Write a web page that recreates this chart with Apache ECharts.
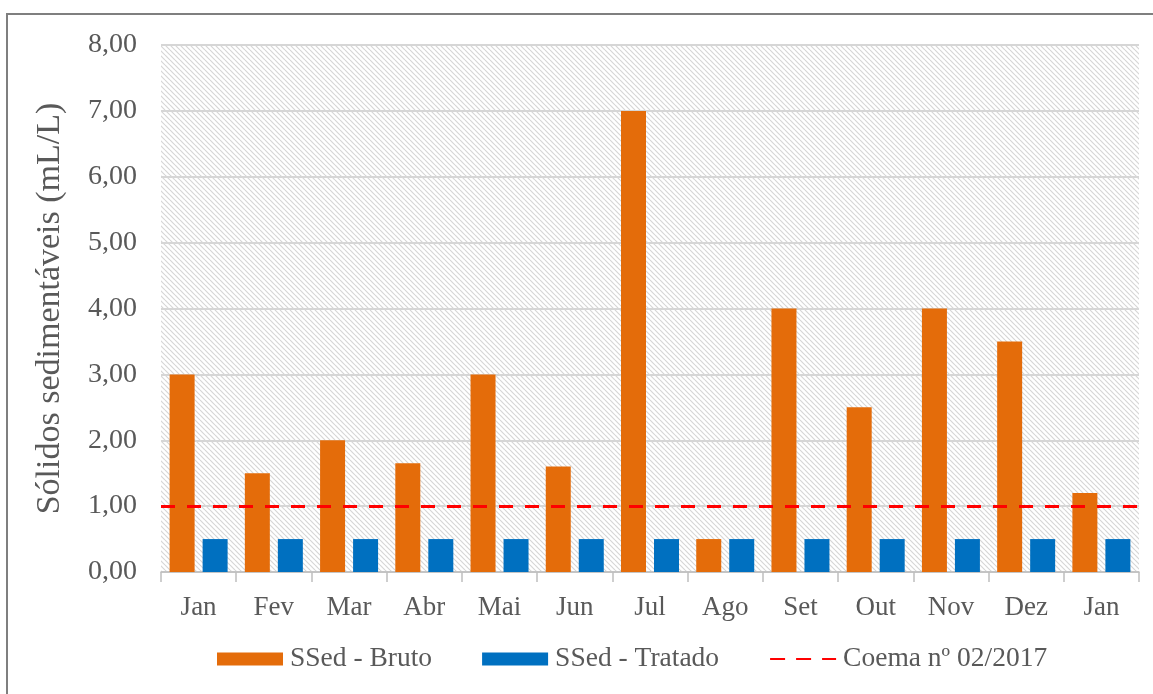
<!DOCTYPE html>
<html>
<head>
<meta charset="utf-8">
<script src="https://cdn.jsdelivr.net/npm/echarts@6/dist/echarts.min.js"></script>
<style>
html,body{margin:0;padding:0;background:#fff;}
#chart{width:1153px;height:694px;}
</style>
</head>
<body>
<div id="chart"></div>
<script>
const categories = ['Jan','Fev','Mar','Abr','Mai','Jun','Jul','Ago','Set','Out','Nov','Dez','Jan'];
const brutoValues = [3.0, 1.5, 2.0, 1.65, 3.0, 1.6, 7.0, 0.5, 4.0, 2.5, 4.0, 3.5, 1.2];
const tratadoValues = [0.5, 0.5, 0.5, 0.5, 0.5, 0.5, 0.5, 0.5, 0.5, 0.5, 0.5, 0.5, 0.5];
const coemaLimit = 1.0;
const seriesNames = ['SSed - Bruto', 'SSed - Tratado', 'Coema nº 02/2017'];
const yAxisTitle = 'Sólidos sedimentáveis (mL/L)';

function makeHatch() {
  const s = 5;
  const c = document.createElement('canvas');
  c.width = s; c.height = s;
  const ctx = c.getContext('2d');
  ctx.fillStyle = '#ffffff';
  ctx.fillRect(0, 0, s, s);
  ctx.strokeStyle = '#d6d6d6';
  ctx.lineWidth = 1.2;
  for (const off of [-s, 0, s]) {
    ctx.beginPath();
    ctx.moveTo(0, off);
    ctx.lineTo(s, off + s);
    ctx.stroke();
  }
  return c;
}

const font = 'Liberation Serif';
const chart = echarts.init(document.getElementById('chart'), null, {renderer: 'canvas'});
chart.setOption({
  animation: false,
  backgroundColor: '#ffffff',
  textStyle: {fontFamily: font},
  graphic: [{
    type: 'rect', z: 100, silent: true,
    shape: {x: 7, y: 14, width: 1170, height: 720},
    style: {fill: 'none', stroke: '#7f7f7f', lineWidth: 2}
  }],
  grid: {
    left: 161, right: 14, top: 45, bottom: 122,
    show: true, borderWidth: 0,
    backgroundColor: {image: makeHatch(), repeat: 'repeat'}
  },
  legend: {
    top: 640, left: 212,
    itemWidth: 66, itemHeight: 13, itemGap: 50,
    textStyle: {fontFamily: font, fontSize: 27.5, color: '#595959', padding: [0,0,0,2]},
    data: [
      {name: seriesNames[0], icon: 'rect'},
      {name: seriesNames[1], icon: 'rect'},
      {name: seriesNames[2], itemStyle: {opacity: 0}}
    ]
  },
  xAxis: {
    type: 'category',
    data: categories,
    axisLine: {lineStyle: {color: '#bfbfbf', width: 1.5}},
    axisTick: {show: true, length: 10, lineStyle: {color: '#bfbfbf', width: 1.5}},
    axisLabel: {fontFamily: font, fontSize: 27, color: '#595959', margin: 22},
    splitLine: {show: false}
  },
  yAxis: {
    type: 'value',
    min: 0, max: 8, interval: 1,
    name: yAxisTitle,
    nameLocation: 'middle',
    nameGap: 94,
    nameTextStyle: {fontFamily: font, fontSize: 34, color: '#595959'},
    axisLine: {show: false},
    axisTick: {show: false},
    axisLabel: {
      fontFamily: font, fontSize: 28, color: '#595959', margin: 24,
      formatter: v => v.toFixed(2).replace('.', ',')
    },
    splitLine: {lineStyle: {color: '#d6d6d6', width: 2}}
  },
  series: [
    {
      name: seriesNames[0], type: 'bar', data: brutoValues,
      itemStyle: {color: '#E46C0A'},
      barWidth: 25, barGap: '32%'
    },
    {
      name: seriesNames[1], type: 'bar', data: tratadoValues,
      itemStyle: {color: '#0070C0'},
      barWidth: 25
    },
    {
      name: seriesNames[2], type: 'line', data: [],
      symbol: 'none',
      itemStyle: {color: '#FF0000'},
      lineStyle: {color: '#FF0000', width: 3, type: [15, 11]},
      markLine: {
        silent: true, symbol: 'none', label: {show: false},
        lineStyle: {color: '#FF0000', width: 3, type: [14, 12]},
        data: [{yAxis: coemaLimit}],
        z: 10
      }
    }
  ]
});
</script>
</body>
</html>
